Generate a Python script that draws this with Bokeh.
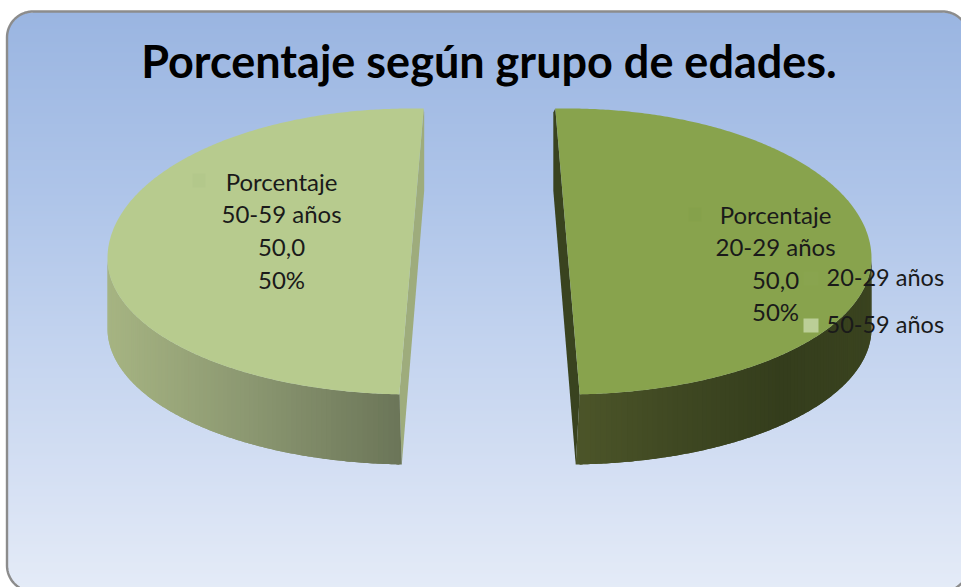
import numpy as np
from bokeh.plotting import figure
from bokeh.models import Range1d
from bokeh.core.properties import value
from bokeh.embed import file_html
from bokeh.resources import INLINE

# data
title_text = "Porcentaje según grupo de edades."
categories = ["20-29 años", "50-59 años"]
percent_values = [50.0, 50.0]
series_name = "Porcentaje"
top_colors = ["#88A34D", "#B7CB8E"]
key_colors = ["#89A44F", "#BBCE97"]
label_key_colors = ["#85A14B", "#B3C88B"]

W, H = 961, 587
p = figure(width=W, height=H, x_range=Range1d(0, W), y_range=Range1d(H, 0),
           output_backend="svg", toolbar_location=None, min_border=0,
           x_axis_location=None, y_axis_location=None, outline_line_color=None,
           background_fill_color="white", border_fill_color="white")
p.grid.visible = False
p.styles = {"position": "absolute", "left": "0px", "top": "0px"}


def lerp_color(stops, t):
    ts = [s[0] for s in stops]
    cs = np.array([[int(s[1][i:i + 2], 16) for i in (1, 3, 5)] for s in stops], float)
    rgb = [np.interp(t, ts, cs[:, k]) for k in range(3)]
    return "#%02x%02x%02x" % tuple(int(round(v)) for v in rgb)


# background panel
L, T, B, R = 6.5, 11, 591, 968
rad = 26
bg_stops = [(11, "#9AB5E1"), (200, "#AFC5E9"), (350, "#C4D4EF"), (470, "#D4DFF3"), (587, "#E4EBF7")]
lefts, rights, tops, bots, cols = [], [], [], [], []
for y in range(T, H):
    dy = max(T + rad - y, y - (B - rad), 0)
    dx = rad - np.sqrt(max(rad ** 2 - dy ** 2, 0))
    lefts.append(L + dx)
    rights.append(R - dx)
    tops.append(y)
    bots.append(y + 2)
    cols.append(lerp_color(bg_stops, y))
p.quad(left=lefts, right=rights, top=tops, bottom=bots, fill_color=cols, line_color=None)

a1 = np.linspace(np.pi, np.pi * 1.5, 24)
a2 = np.linspace(np.pi * 1.5, np.pi * 2, 24)
a3 = np.linspace(0, np.pi / 2, 24)
a4 = np.linspace(np.pi / 2, np.pi, 24)
px = np.r_[L + rad + rad * np.cos(a1), R - rad + rad * np.cos(a2), R - rad + rad * np.cos(a3),
           L + rad + rad * np.cos(a4), L + rad + rad * np.cos(a1[0])]
py = np.r_[T + rad + rad * np.sin(a1), T + rad + rad * np.sin(a2), B - rad + rad * np.sin(a3),
           B - rad + rad * np.sin(a4), T + rad + rad * np.sin(a1[0])]
p.line(px, py, line_color="#8C8C8C", line_width=2.4)

# pie geometry, sweeps derived from the values (measured clockwise from top)
a_r, b_back, b_front, depth = 304, 150, 136, 70
cy = 258
centers_x = [567, 411]
starts = np.radians([-2.3, 182.3])
total = sum(percent_values)
side_right = [(0, "#4C5529"), (0.35, "#3F4822"), (0.7, "#343D1C"), (1, "#3A431F")]
side_left = [(0, "#6B7558"), (0.5, "#8A9670"), (1, "#A6B482")]
face_colors = ["#39431F", "#9EAC7C"]
face_bottom_dx = [-4, 2.5]
face_knee_dx = [-2, 0.5]
face_knee_dy = 82

for i, (cat, val) in enumerate(zip(categories, percent_values)):
    sweep = 2 * np.pi * val / total
    th = np.linspace(starts[i], starts[i] + sweep, 361)
    cx = centers_x[i]
    ex = cx + a_r * np.sin(th)
    ey = cy - np.where(np.cos(th) > 0, b_back, b_front) * np.cos(th)
    # cut face: from the top rim point to the bottom of the front edge
    top_pt = 0 if i == 0 else -1
    bot_pt = -1 if i == 0 else 0
    fx = [ex[top_pt], ex[top_pt] + face_knee_dx[i], ex[top_pt] + face_knee_dx[i],
          ex[bot_pt] + face_bottom_dx[i], ex[bot_pt]]
    fy = [ey[top_pt], ey[top_pt] + 4, ey[top_pt] + face_knee_dy, ey[bot_pt] + depth, ey[bot_pt]]
    p.patch(fx, fy, fill_color=face_colors[i], line_color=None)
    # outer wall: visible where the rim faces the viewer
    idx = np.where(np.cos(th) < 0.01)[0]
    if i == 0:
        idx = idx[::-1]
    stops = side_right if i == 0 else side_left
    span = abs(ex[idx].max() - ex[idx].min())
    n = len(idx)
    # small skewed piece that joins the wall to the lower corner of the cut face
    p.patch([ex[bot_pt], ex[bot_pt] + face_bottom_dx[i], ex[bot_pt] + (3 if i == 0 else -3)],
            [ey[bot_pt], ey[bot_pt] + depth, ey[bot_pt] + depth],
            fill_color=stops[0][1], line_color=None)
    for k in range(n - 1, 0, -2):
        j0, j1 = idx[k], idx[max(k - 4, 0)]
        t = abs(ex[idx[k]] - ex[idx[0]]) / span
        # draw from the far end inwards; each strip overlaps its neighbour
        seg = np.sort([j0, j1])
        tx = ex[seg[0]:seg[1] + 1]
        ty = ey[seg[0]:seg[1] + 1]
        c = lerp_color(stops, t)
        p.patch(np.r_[tx, tx[::-1]], np.r_[ty, ty[::-1] + depth], fill_color=c, line_color=None)
    # top
    p.patch(ex, ey, fill_color=top_colors[i], line_color=None)

# title
p.text(x=[488.5], y=[60], text=[title_text], text_font=value("Lato"), text_font_style="bold",
       text_font_size="45px", text_align="center", text_baseline="middle", text_color="#000000")

# data labels
label_cx = [775, 281]
label_ys = [[214, 246, 280, 311], [181, 213, 247, 279]]
key_xy = [(688, 207), (192, 173)]
for i, cat in enumerate(categories):
    lines = [series_name, cat, ("%.1f" % percent_values[i]).replace(".", ","),
             "%d%%" % round(percent_values[i] / total * 100)]
    p.text(x=[label_cx[i]] * 4, y=label_ys[i], text=lines, text_font=value("Lato"),
           text_font_size="24px", text_align="center", text_baseline="middle", text_color="#1A1A1A")
    kx, ky = key_xy[i]
    p.quad(left=[kx], right=[kx + 13], top=[ky], bottom=[ky + 14], fill_color=label_key_colors[i], line_color=None)

# legend
legend_y = [276, 323]
for i, cat in enumerate(categories):
    p.quad(left=[803], right=[818], top=[legend_y[i] - 5], bottom=[legend_y[i] + 9],
           fill_color=key_colors[i], line_color=None)
    p.text(x=[826], y=[legend_y[i]], text=[cat], text_font=value("Lato"), text_font_size="23.5px",
           text_align="left", text_baseline="middle", text_color="#1A1A1A")

open("out.html", "w").write(file_html(p, INLINE))
